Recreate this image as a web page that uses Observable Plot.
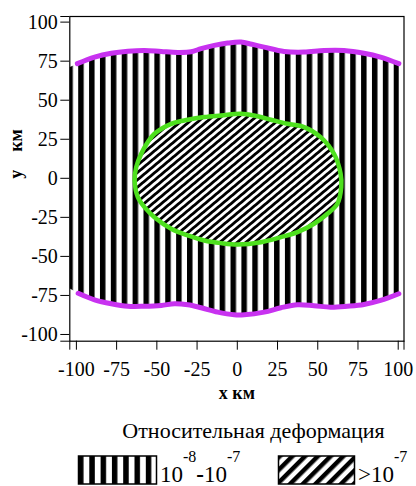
<!DOCTYPE html>
<html><head><meta charset="utf-8">
<script src="https://cdn.jsdelivr.net/npm/d3@7"></script>
<script src="https://cdn.jsdelivr.net/npm/@observablehq/plot@0.6"></script>
<style>
body{margin:0;background:#fff;}
#wrap{position:relative;width:416px;height:486px;overflow:hidden;background:#fff;font-family:"Liberation Serif","Times New Roman",serif;}
#wrap svg{display:block;}
#title{position:absolute;left:253.5px;top:420px;transform:translateX(-50%);font-size:22px;line-height:1;white-space:nowrap;color:#000;}
#legend{position:absolute;left:0;top:440px;}
</style></head><body><div id="wrap"></div>
<script>
// axis ticks and domains (km)
const xTicks = [-100, -75, -50, -25, 0, 25, 50, 75, 100];
const yTicks = [-100, -75, -50, -25, 0, 25, 50, 75, 100];
const xDomain = [-104.1, 103.6];
const yDomain = [-104.3, 103.6];

// upper boundary of the 10^-8..10^-7 zone (purple)
const topX = [-99.4, -88.7, -78.3, -68.0, -57.7, -47.3, -37.0, -28.7, -22.5, -14.3, -6.0, 2.3, 9.0, 16.7, 29.1, 41.5, 53.9, 66.3, 78.7, 89.0, 100.4];
const topY = [73.4, 77.6, 80.1, 81.4, 81.9, 81.2, 80.6, 81.0, 83.0, 85.1, 86.6, 87.2, 85.8, 84.0, 81.2, 80.8, 81.9, 81.9, 80.1, 77.6, 73.4];
// lower boundary (purple)
const botX = [-98.9, -88.7, -78.3, -68.0, -57.7, -47.3, -39.0, -30.7, -22.5, -12.2, -1.9, 4.3, 16.7, 27.1, 37.4, 47.7, 58.0, 68.4, 78.7, 89.0, 100.4];
const botY = [-73.6, -77.8, -80.3, -81.9, -81.9, -81.4, -80.3, -81.0, -82.9, -85.7, -87.4, -87.4, -85.7, -82.9, -81.0, -81.6, -82.5, -81.9, -80.8, -78.2, -73.9];
// hatched zone reaches the left frame edge
const edgeX = -104.1, edgeTopY = 71.2, edgeBotY = -70.5;

// boundary of the >10^-7 zone (green)
const ellX = [2.3, 10.5, 20.9, 31.2, 41.5, 51.8, 60.1, 64.2, 64.6, 62.2, 56.0, 47.7, 37.4, 27.1, 14.7, 0.2, -10.1, -20.5, -30.8, -41.1, -51.5, -57.7, -61.8, -63.8, -62.8, -59.7, -55.6, -51.5, -41.1, -30.8, -20.5, -10.1];
const ellY = [41.3, 40.2, 37.5, 34.9, 32.8, 26.4, 15.7, 2.9, -5.6, -16.3, -22.7, -29.1, -34.5, -37.7, -40.9, -42.4, -41.5, -39.8, -36.6, -32.3, -24.9, -18.5, -12.1, -1.4, 7.2, 15.7, 23.2, 28.5, 34.9, 37.5, 39.2, 40.2];

const legendTitle = "Относительная деформация";

const purple = "#c832f0";
const green = "#4ee01e";

const topRows = topX.map((x, i) => ({x, y: topY[i]}));
const botRows = botX.map((x, i) => ({x, y: botY[i]}));
const zoneRows = [{x: edgeX, y: edgeTopY}, ...topRows, ...botRows.slice().reverse(), {x: edgeX, y: edgeBotY}];
const ellRows = ellX.map((x, i) => ({x, y: ellY[i]}));
const fmt = d => String(d);
const serif = '"Liberation Serif", "Times New Roman", Times, serif';

const chart = Plot.plot({
  width: 416, height: 405,
  marginTop: 16, marginLeft: 69.3, marginRight: 12.5, marginBottom: 64.3,
  x: {domain: xDomain},
  y: {domain: yDomain},
  style: {fontFamily: serif, fontSize: "20px", color: "#000", background: "#fff"},
  marks: [
    Plot.line(zoneRows, {x: "x", y: "y", curve: "linear-closed", fill: "url(#vstripes)", stroke: "none"}),
    Plot.line(ellRows, {x: "x", y: "y", curve: "catmull-rom-closed", fill: "url(#dstripes)", stroke: "none"}),
    Plot.line(ellRows, {x: "x", y: "y", curve: "catmull-rom-closed", stroke: green, strokeWidth: 4.5}),
    Plot.line(topRows, {x: "x", y: "y", curve: "catmull-rom", stroke: purple, strokeWidth: 5, strokeLinecap: "round"}),
    Plot.line(botRows, {x: "x", y: "y", curve: "catmull-rom", stroke: purple, strokeWidth: 5, strokeLinecap: "round"}),
    Plot.frame({stroke: "#000", strokeWidth: 1.2}),
    Plot.axisX(xTicks, {tickSize: 9, tickPadding: 12, tickFormat: fmt, label: null, fontSize: 20, fontFamily: serif}),
    Plot.axisX(xDomain, {tickSize: 9, tickFormat: () => "", label: null}),
    Plot.axisY(yTicks, {tickSize: 9, tickPadding: 3, tickFormat: fmt, label: null, fontSize: 20, fontFamily: serif}),
    Plot.axisY(yDomain, {tickSize: 9, tickFormat: () => "", label: null}),
    Plot.text(["x км"], {frameAnchor: "bottom", lineAnchor: "middle", dy: 52.3, fontWeight: "bold", fontSize: 18, fontFamily: serif}),
    Plot.text(["y\u2003км"], {frameAnchor: "left", lineAnchor: "middle", dx: -53.3, rotate: -90, fontWeight: "bold", fontSize: 18, fontFamily: serif})
  ]
});

// hatch patterns
const defs = d3.select(chart).insert("defs", ":first-child");
const vp = defs.append("pattern").attr("id", "vstripes").attr("patternUnits", "userSpaceOnUse")
  .attr("x", 77.7).attr("y", 0).attr("width", 10.88).attr("height", 10);
vp.append("rect").attr("x", 0).attr("y", 0).attr("width", 5.5).attr("height", 10).attr("fill", "#000");
const dp = defs.append("pattern").attr("id", "dstripes").attr("patternUnits", "userSpaceOnUse")
  .attr("width", 5.6).attr("height", 10).attr("patternTransform", "rotate(50)");
dp.append("rect").attr("width", 5.6).attr("height", 10).attr("fill", "#fff");
dp.append("rect").attr("width", 2.8).attr("height", 10).attr("fill", "#000");

const wrap = document.getElementById("wrap");
wrap.appendChild(chart);

const t = document.createElement("div");
t.id = "title"; t.textContent = legendTitle;
wrap.appendChild(t);

// legend
const L = d3.create("svg").attr("id", "legend").attr("width", 416).attr("height", 46)
  .style("font-family", serif);
const ld = L.append("defs");
const lv = ld.append("pattern").attr("id", "lvs").attr("patternUnits", "userSpaceOnUse")
  .attr("x", 78).attr("width", 11.3).attr("height", 10);
lv.append("rect").attr("width", 5.5).attr("height", 10).attr("fill", "#000");
const ldp = ld.append("pattern").attr("id", "lds").attr("patternUnits", "userSpaceOnUse")
  .attr("width", 9).attr("height", 10).attr("patternTransform", "rotate(45)");
ldp.append("rect").attr("width", 9).attr("height", 10).attr("fill", "#fff");
ldp.append("rect").attr("width", 4.5).attr("height", 10).attr("fill", "#000");
L.append("rect").attr("x", 78.5).attr("y", 16).attr("width", 78).attr("height", 28).attr("fill", "url(#lvs)").attr("stroke", "#000").attr("stroke-width", 1.5);
L.append("rect").attr("x", 278.5).attr("y", 16).attr("width", 76).attr("height", 28).attr("fill", "url(#lds)").attr("stroke", "#000").attr("stroke-width", 1.5);
const t1 = L.append("text").attr("x", 160).attr("y", 42).attr("font-size", 23).attr("fill", "#000");
t1.append("tspan").text("10");
t1.append("tspan").attr("dy", -20).attr("font-size", 16).text("-8");
t1.append("tspan").attr("dy", 20).attr("font-weight", "bold").text("-");
t1.append("tspan").text("10");
t1.append("tspan").attr("dy", -20).attr("font-size", 16).text("-7");
const t2 = L.append("text").attr("x", 358).attr("y", 42).attr("font-size", 23).attr("fill", "#000");
t2.append("tspan").text(">10");
t2.append("tspan").attr("dy", -20).attr("font-size", 16).text("-7");
wrap.appendChild(L.node());
</script></body></html>
